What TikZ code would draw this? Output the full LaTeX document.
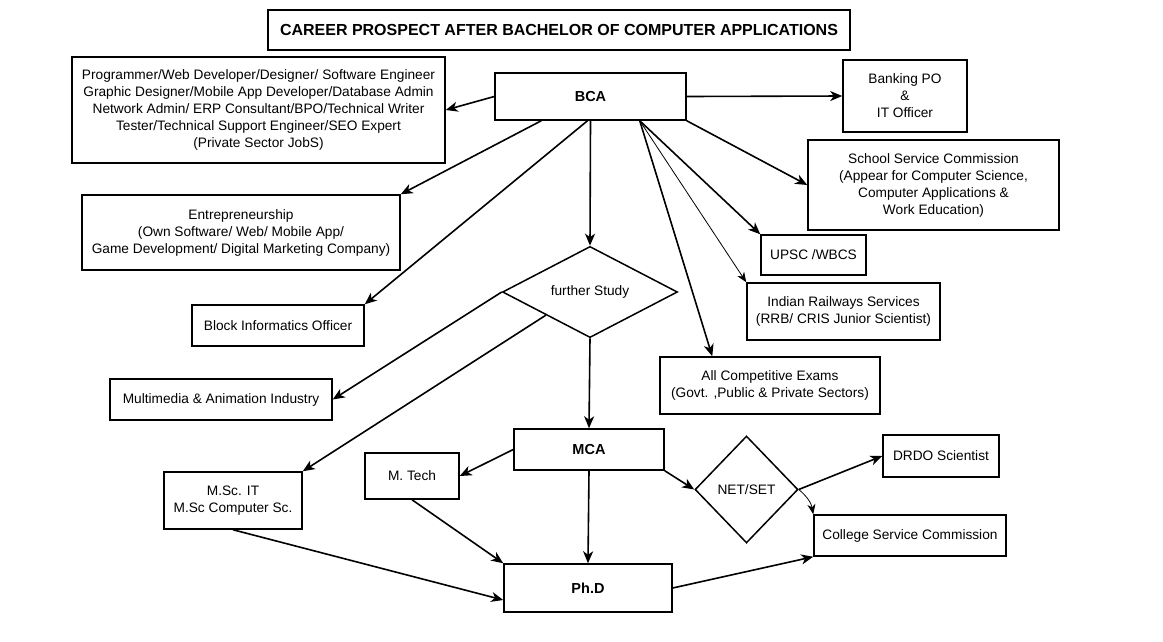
\documentclass[tikz,border=0pt]{standalone}
\usepackage{fontspec}
\setmainfont{Liberation Sans}
\usetikzlibrary{shapes.geometric, arrows.meta}

\begin{document}
\begin{tikzpicture}[x=1pt, y=-1pt,
  box/.style={draw, line width=1.5pt, inner sep=0pt, align=center, font=\fontsize{13.7}{17}\selectfont},
  headbox/.style={box, font=\fontsize{14.5}{17}\selectfont\bfseries},
  choice/.style={draw, diamond, line width=1.5pt, inner sep=0pt, align=center, font=\fontsize{13.7}{17}\selectfont},
  link/.style={line width=1.6pt, -{Stealth[length=12pt, width=10pt, inset=3.5pt]}},
  thinlink/.style={line width=0.8pt, -{Stealth[length=10pt, width=8pt, inset=3pt]}}]
\useasboundingbox[fill=white] (0,0) rectangle (1163,641);

\node[box, minimum width=582pt, minimum height=40pt, font=\fontsize{16}{17}\selectfont\bfseries] (title) at (559,30) {CAREER PROSPECT AFTER BACHELOR OF COMPUTER APPLICATIONS};

\node[headbox, minimum width=191pt, minimum height=47pt] (bca) at (590.5,96.5) {BCA};
\node[box, minimum width=373pt, minimum height=106pt] (jobs) at (258.5,110) {Programmer/Web Developer/Designer/ Software Engineer\\ Graphic Designer/Mobile App Developer/Database Admin\\ Network Admin/ ERP Consultant/BPO/Technical Writer\\ Tester/Technical Support Engineer/SEO Expert\\ (Private Sector JobS)};
\node[box, minimum width=124pt, minimum height=72pt] (bank) at (905,96) {Banking PO\\ \&\\ IT Officer};
\node[box, minimum width=251pt, minimum height=90pt] (school) at (933.5,185) {School Service Commission\\ (Appear for Computer Science,\\ Computer Applications \&\\ Work Education)};
\node[box, minimum width=318pt, minimum height=75pt] (entre) at (241,232.5) {Entrepreneurship\\ (Own Software/ Web/ Mobile App/\\ Game Development/ Digital Marketing Company)};
\node[box, minimum width=105pt, minimum height=40pt] (upsc) at (813.5,255) {UPSC /WBCS};
\node[box, minimum width=193pt, minimum height=57pt] (rail) at (843.5,311.5) {Indian Railways Services\\ (RRB/ CRIS Junior Scientist)};
\node[box, minimum width=172pt, minimum height=41pt] (block) at (278,325.5) {Block Informatics Officer};
\node[box, minimum width=220pt, minimum height=57pt] (exams) at (770,385.5) {All Competitive Exams\\ (Govt. ,Public \& Private Sectors)};
\node[box, minimum width=222pt, minimum height=41pt] (media) at (221,399.5) {Multimedia \& Animation Industry};
\node[choice, minimum width=175pt, minimum height=74pt] (study) at (590,292) {further Study};

\node[headbox, minimum width=150pt, minimum height=41pt] (mca) at (589,449.5) {MCA};
\node[box, minimum width=94pt, minimum height=46pt] (mtech) at (412,476) {M. Tech};
\node[box, minimum width=138pt, minimum height=57pt] (msc) at (233,500.5) {M.Sc. IT\\ M.Sc Computer Sc.};
\node[headbox, minimum width=168pt, minimum height=48pt] (phd) at (588,588) {Ph.D};
\node[choice, minimum width=103pt, minimum height=107pt] (net) at (746.5,489.5) {NET/SET};
\node[box, minimum width=116pt, minimum height=42pt] (drdo) at (941,456) {DRDO Scientist};
\node[box, minimum width=192pt, minimum height=41pt] (college) at (910,535.5) {College Service Commission};

% from BCA
\draw[link] (bca.west) -- (jobs.east);
\draw[link] ([xshift=47pt]bca.south west) -- (entre.north east);
\draw[link] ([xshift=-3pt]bca.south) -- (block.north east);
\draw[link] (bca.south) -- (study.north);
\draw[link] (bca.east) -- (bank.west);
\draw[link] (bca.south east) -- (school.west);
\draw[link] ([xshift=-47pt]bca.south east) -- (upsc.north west);
\draw[thinlink] ([xshift=-47pt]bca.south east) -- (rail.north west);
\draw[link] ([xshift=-47pt]bca.south east) -- ([xshift=53pt]exams.north west);

% further study
\draw[link] (study.west) -- (media.east);
\draw[link] (study.south west) -- (msc.north east);
\draw[link] (study.south) -- (mca.north);
\draw[link] (mca.west) -- (mtech.east);
\draw[link] (mca.south) -- (phd.north);
\draw[link] (mtech.south) -- (phd.north west);
\draw[link] (msc.south) -- ([yshift=-12pt]phd.west);
\draw[link] (mca.south east) -- (net.west);
\draw[link] (net.east) -- (drdo.west);
\draw[thinlink] (net.east) to[bend left=20] (college.north west);
\draw[link] (phd.east) -- (college.south west);
\end{tikzpicture}
\end{document}
